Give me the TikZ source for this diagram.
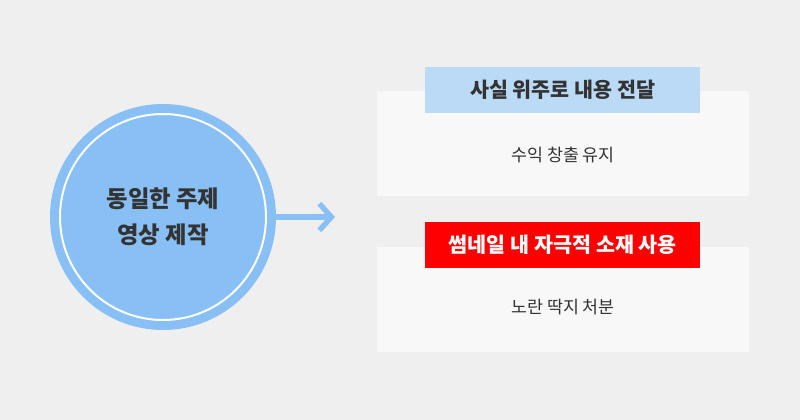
\documentclass[tikz,border=0pt]{standalone}
\usepackage{fontspec}
\setmainfont{Noto Sans CJK KR}
\usetikzlibrary{arrows.meta}
\definecolor{bg}{HTML}{EFEFEF}
\definecolor{circ}{HTML}{88C0F5}
\definecolor{panel}{HTML}{F8F8F8}
\definecolor{lblue}{HTML}{BBDAF6}
\definecolor{lred}{HTML}{FF0000}
\definecolor{txt}{HTML}{333333}
\begin{document}
\begin{tikzpicture}[x=0.75pt,y=-0.75pt,
  panelbox/.style={fill=panel,draw=none,minimum width=372*0.75pt,minimum height=105*0.75pt,anchor=north west,inner sep=0},
  tagbox/.style={draw=none,minimum width=275*0.75pt,minimum height=46*0.75pt,anchor=north west,inner sep=0,font=\bfseries\fontsize{15.5}{18}\selectfont},
  bodytxt/.style={text=txt,font=\fontsize{13}{15}\selectfont}]
\fill[bg] (0,0) rectangle (800,420);
\node[circle,fill=circ,minimum size=226*0.75pt,inner sep=0] (c) at (163,217) {};
\draw[white,line width=1.5pt] (c.center) circle (103);
\node[align=center,text=txt,font=\bfseries\fontsize{17.5}{27}\selectfont] (ct) at (c.center) {동일한 주제\\영상 제작};
\coordinate (a1) at (335,217);
\draw[circ,line width=4pt,-{Straight Barb[length=9pt,width=20pt,line width=4pt]}] (c.east) -- (a1);
\node[panelbox] (p1) at (377,91) {};
\node[panelbox] (p2) at (377,247) {};
\node[tagbox,fill=lblue,text=txt] (t1) at (425,67) {사실 위주로 내용 전달};
\node[tagbox,fill=lred,text=white] (t2) at (425,222) {썸네일 내 자극적 소재 사용};
\node[bodytxt] (b1) at (563,155) {수익 창출 유지};
\node[bodytxt] (b2) at (563,307) {노란 딱지 처분};
\end{tikzpicture}
\end{document}
